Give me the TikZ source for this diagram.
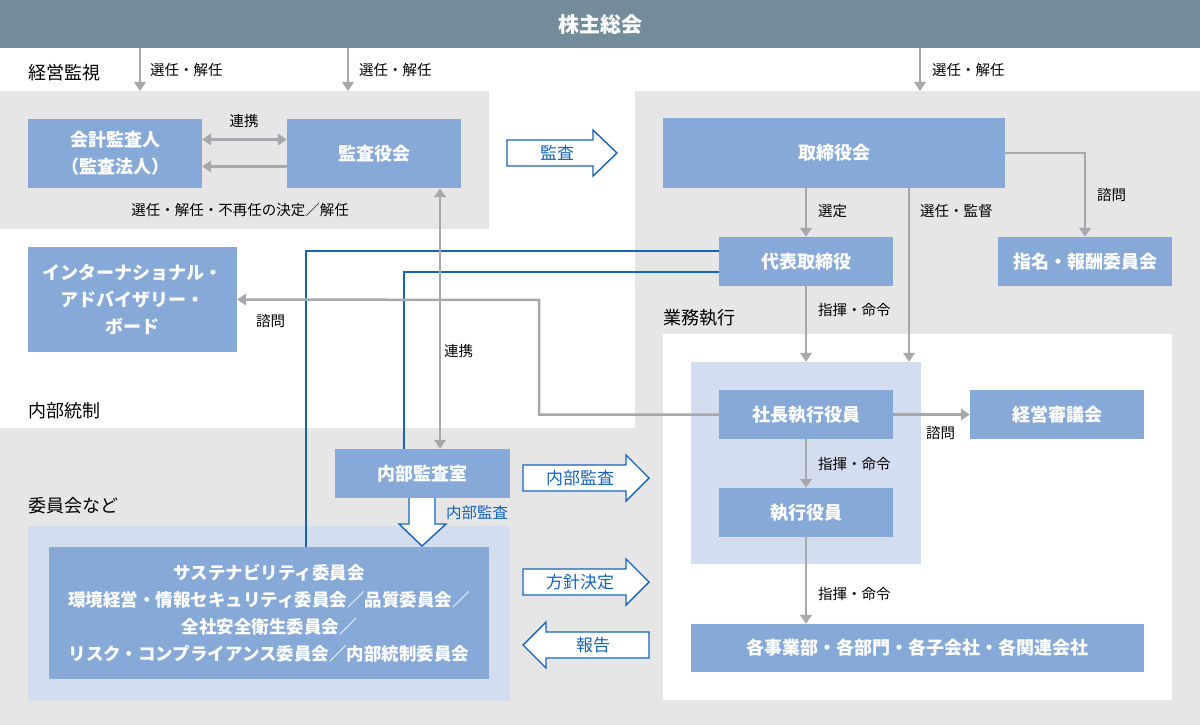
\documentclass[tikz,border=0pt]{standalone}
\usepackage{fontspec}
\setmainfont{Noto Sans CJK JP}
\usetikzlibrary{arrows.meta}
\definecolor{barslate}{RGB}{114,140,155}
\definecolor{zonegray}{RGB}{230,230,230}
\definecolor{boxblue}{RGB}{134,169,216}
\definecolor{paleblue}{RGB}{211,221,240}
\definecolor{arrowgray}{RGB}{166,168,171}
\definecolor{lineblue}{RGB}{20,100,190}
\begin{document}
\begin{tikzpicture}[x=1pt,y=-1pt,
    box/.style={fill=boxblue,text=white,align=center,inner sep=0pt,
      font=\fontsize{18}{27}\selectfont\bfseries},
    bg/.style={fill=paleblue,inner sep=0pt},
    lbl/.style={font=\fontsize{14.5}{17}\selectfont,inner sep=0pt,anchor=west},
    zone/.style={font=\fontsize{18}{21}\selectfont,inner sep=0pt,anchor=west},
    garrow/.style={draw=arrowgray,line width=2.5pt,-{Triangle[width=11.5pt,length=9pt]}},
    gboth/.style={garrow,{Triangle[width=11.5pt,length=9pt]}-{Triangle[width=11.5pt,length=9pt]}},
    bline/.style={draw=lineblue,line width=2.5pt},
    hollow/.style={draw=lineblue,fill=white,line width=1.4pt,line join=miter},
    htext/.style={text=lineblue,font=\fontsize{17}{20}\selectfont,inner sep=0pt}]
                \useasboundingbox (0,0) rectangle (1200,725);
                %ZONE
                \fill[zonegray] (0,91) rectangle (489,229);
                \fill[zonegray] (635,91) rectangle (1200,725);
                \fill[zonegray] (0,428) rectangle (1200,725);
                \fill[white] (663,334) rectangle (1172,700);

                %NODE
                \node[fill=barslate,text=white,inner sep=0pt,minimum width=1200pt,minimum height=48pt,
                  font=\fontsize{21}{24}\selectfont\bfseries] (GM) at (600,24) {株主総会};
                \node[bg,minimum width=230pt,minimum height=202pt] (EXBG) at (806,463) {};
                \node[bg,minimum width=482pt,minimum height=175pt] (CMBG) at (269,613.5) {};
                \node[box,minimum width=174pt,minimum height=69pt] (KA) at (115,153.5) {会計監査人\\（監査法人）};
                \node[box,minimum width=174pt,minimum height=69pt] (KY) at (374,153.5) {監査役会};
                \node[box,minimum width=342pt,minimum height=70pt] (TB) at (834,153) {取締役会};
                \node[box,minimum width=174pt,minimum height=49pt] (DT) at (806,261.5) {代表取締役};
                \node[box,minimum width=174pt,minimum height=49pt] (NH) at (1085,261.5) {指名・報酬委員会};
                \node[box,minimum width=209pt,minimum height=105pt] (IAB) at (132.5,299.5) {インターナショナル・\\アドバイザリー・\\ボード};
                \node[box,minimum width=174pt,minimum height=49pt] (SC) at (806,414.5) {社長執行役員};
                \node[box,minimum width=174pt,minimum height=49pt] (KS) at (1057,414.5) {経営審議会};
                \node[box,minimum width=174pt,minimum height=49pt] (SY) at (806,512.5) {執行役員};
                \node[box,minimum width=453pt,minimum height=48pt] (KJ) at (917.5,648) {各事業部・各部門・各子会社・各関連会社};
                \node[box,minimum width=175pt,minimum height=49pt] (IA) at (422.5,473.5) {内部監査室};
                \node[box,minimum width=440pt,minimum height=132pt,font=\fontsize{17.5}{27}\selectfont\bfseries] (CM) at (269,613)
                  {サステナビリティ委員会\\環境経営・情報セキュリティ委員会／品質委員会／\\全社安全衛生委員会／\\リスク・コンプライアンス委員会／内部統制委員会};

                %LABEL
                \node[zone] (L1) at (28,73) {経営監視};
                \node[zone] (L2) at (28,411) {内部統制};
                \node[zone] (L3) at (28,506) {委員会など};
                \node[zone] (L4) at (663,318) {業務執行};
                \node[lbl] (S1) at (150,70) {選任・解任};
                \node[lbl] (S2) at (359,70) {選任・解任};
                \node[lbl] (S3) at (932,70) {選任・解任};
                \node[lbl,anchor=center] (R1) at (244,121) {連携};
                \node[lbl,anchor=center] (D1) at (240,210) {選任・解任・不再任の決定／解任};
                \node[lbl] (R2) at (444,351) {連携};
                \node[lbl] (C1) at (256,321) {諮問};
                \node[lbl] (SE) at (818,211) {選定};
                \node[lbl] (SK) at (920,211) {選任・監督};
                \node[lbl] (C2) at (1097,195) {諮問};
                \node[lbl] (M1) at (818,310) {指揮・命令};
                \node[lbl] (C3) at (926,433) {諮問};
                \node[lbl] (M2) at (818,464) {指揮・命令};
                \node[lbl] (M3) at (818,594) {指揮・命令};

                %HOLLOW ARROW
                \draw[hollow] (507,140) -- (593,140) -- (593,130) -- (617,153) -- (593,176) -- (593,166) -- (507,166) -- cycle;
                \node[htext] (H1) at (557,153) {監査};
                \draw[hollow] (523,465) -- (626,465) -- (626,455) -- (649,478) -- (626,501) -- (626,491) -- (523,491) -- cycle;
                \node[htext] (H2) at (580,478) {内部監査};
                \draw[hollow] (523,569) -- (626,569) -- (626,559) -- (649,582) -- (626,605) -- (626,595) -- (523,595) -- cycle;
                \node[htext] (H3) at (580,582) {方針決定};
                \draw[hollow] (649,632) -- (546,632) -- (546,622) -- (523,645) -- (546,668) -- (546,658) -- (649,658) -- cycle;
                \node[htext] (H4) at (593,645) {報告};
                \draw[hollow] (409,498) -- (409,524) -- (399,524) -- (422,546) -- (446,524) -- (435,524) -- (435,498);
                \node[htext,anchor=west,font=\fontsize{15.5}{18}\selectfont] (H5) at (446,513) {内部監査};

                %EDGE
                \coordinate (X1) at (140,91);
                \coordinate (X2) at (348,91);
                \coordinate (X3) at (920,91);
                \coordinate (X4) at (440,0);
                \coordinate (X5) at (909,0);
                \coordinate (X6) at (539,300);
                \coordinate (X7) at (306,0);
                \coordinate (X8) at (404,0);
                \draw[bline] ([yshift=10.5pt]DT.west) -| (X7 |- CM.north);
                \draw[bline] ([yshift=-10.5pt]DT.west) -| (X8 |- IA.north);
                \draw[garrow] (X1 |- GM.south) -- (X1);
                \draw[garrow] (X2 |- GM.south) -- (X2);
                \draw[garrow] (X3 |- GM.south) -- (X3);
                \draw[gboth] ([yshift=14pt]KA.east) -- ([yshift=14pt]KY.west);
                \draw[garrow] ([yshift=-13pt]KY.west) -- ([yshift=-13pt]KA.east);
                \draw[gboth] (X4 |- KY.south) -- (X4 |- IA.north);
                \draw[garrow] (TB.south -| DT) -- (DT.north);
                \draw[garrow] (X5 |- TB.south) -- (X5 |- EXBG.north);
                \draw[garrow] (TB.east) -| (NH.north);
                \draw[garrow] (DT.south) -- (DT.south |- EXBG.north);
                \draw[garrow] (SC) -- (KS);
                \draw[garrow] (SC) -- (SY);
                \draw[garrow] (SY.south) -- (SY.south |- KJ.north);
                \draw[garrow] (SC.west) -| (X6) -- (IAB.east);
            \end{tikzpicture}
\end{document}
